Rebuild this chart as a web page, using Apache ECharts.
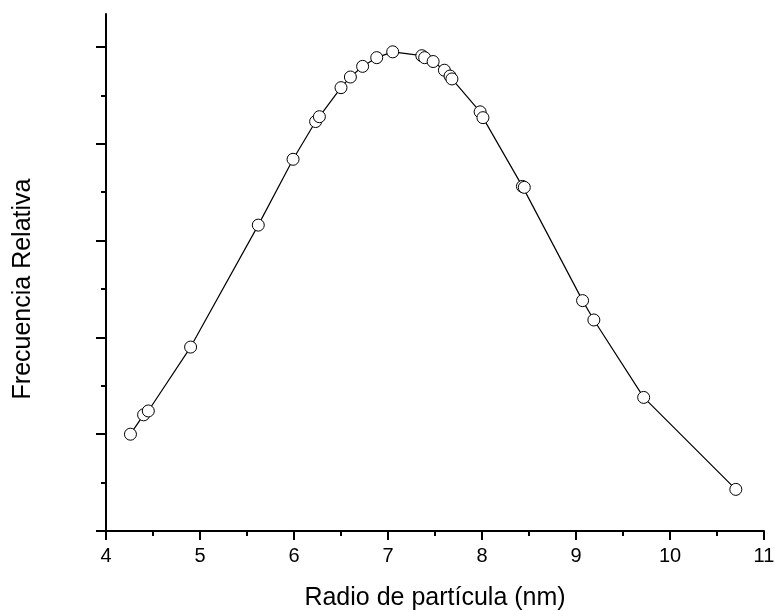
<!DOCTYPE html>
<html>
<head>
<meta charset="utf-8">
<script src="https://cdn.jsdelivr.net/npm/echarts@6/dist/echarts.min.js"></script>
<style>html,body{margin:0;padding:0;background:#fff;}#c{width:775px;height:611px;}</style>
</head>
<body>
<div id="c"></div>
<script>
const radius = [4.26, 4.40, 4.45, 4.90, 5.62, 5.99, 6.23, 6.27, 6.50, 6.60, 6.73, 6.88, 7.05, 7.36, 7.39, 7.48, 7.60, 7.66, 7.68, 7.98, 8.01, 8.43, 8.45, 9.07, 9.19, 9.72, 10.70];
const freq = [1.00, 1.20, 1.24, 1.90, 3.16, 3.84, 4.23, 4.28, 4.58, 4.69, 4.80, 4.89, 4.95, 4.91, 4.89, 4.85, 4.76, 4.70, 4.67, 4.33, 4.27, 3.56, 3.55, 2.38, 2.18, 1.38, 0.43];
const xTicks = [4, 5, 6, 7, 8, 9, 10, 11];

const FONT = 'Liberation Sans, Arial, sans-serif';
const pts = radius.map((x, i) => [x, freq[i]]);
const chart = echarts.init(document.getElementById('c'), null, {renderer: 'canvas'});
const lineStyle = {color: '#000', width: 2};
chart.setOption({
  animation: false,
  backgroundColor: '#fff',
  grid: [
    {left: 106, right: 11, top: 14, bottom: 80, containLabel: false, outerBoundsMode: 'none'},
    {left: 106, right: 11, top: 47, bottom: 80, containLabel: false, outerBoundsMode: 'none'}
  ],
  xAxis: [
    {gridIndex: 0, type: 'value', min: xTicks[0], max: xTicks[xTicks.length - 1], show: false},
    {
      gridIndex: 1, type: 'value', min: xTicks[0], max: xTicks[xTicks.length - 1], interval: 1,
      axisLine: {show: true, lineStyle: lineStyle},
      axisTick: {show: true, length: 9, lineStyle: lineStyle},
      minorTick: {show: true, splitNumber: 2, length: 5, lineStyle: lineStyle},
      axisLabel: {show: true, color: '#000', fontSize: 20, fontFamily: FONT, margin: 15},
      splitLine: {show: false},
      name: 'Radio de partícula (nm)', nameLocation: 'middle', nameGap: 55,
      nameTextStyle: {color: '#000', fontSize: 25, fontFamily: FONT}
    }
  ],
  yAxis: [
    {gridIndex: 0, type: 'value', min: 0, max: 1,
      axisLine: {show: true, lineStyle: lineStyle},
      axisTick: {show: false}, axisLabel: {show: false}, splitLine: {show: false}},
    {
      gridIndex: 1, type: 'value', min: 0, max: 5, interval: 1,
      axisLine: {show: false},
      axisTick: {show: true, length: 10, lineStyle: lineStyle},
      minorTick: {show: true, splitNumber: 2, length: 5, lineStyle: lineStyle},
      axisLabel: {show: false},
      splitLine: {show: false},
      name: 'Frecuencia Relativa', nameLocation: 'middle', nameGap: 70,
      nameTextStyle: {color: '#000', fontSize: 25, fontFamily: FONT}
    }
  ],
  series: [{
    type: 'line', xAxisIndex: 1, yAxisIndex: 1, data: pts,
    symbol: 'circle', symbolSize: 12, showAllSymbol: true,
    lineStyle: {color: '#000', width: 1.2},
    itemStyle: {color: '#fff', borderColor: '#000', borderWidth: 1},
    emphasis: {disabled: true}
  }]
});
</script>
</body>
</html>
